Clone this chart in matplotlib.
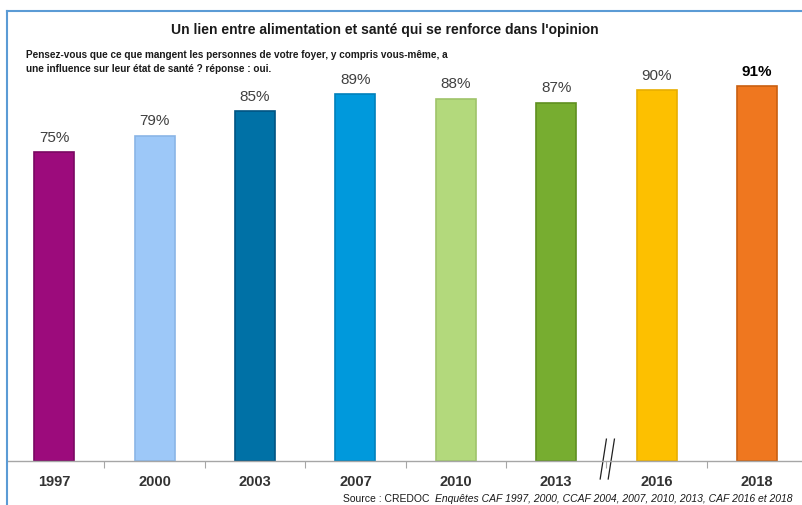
import matplotlib
matplotlib.use('Agg')
import matplotlib.pyplot as plt
from matplotlib.lines import Line2D

# data
years = ['1997', '2000', '2003', '2007', '2010', '2013', '2016', '2018']
values = [75, 79, 85, 89, 88, 87, 90, 91]
colors = ['#9c0b7c', '#9dc8f8', '#0071a6', '#0099dc', '#b3d97c', '#77ad30', '#fdc000', '#ef771f']
edges = ['#7a0862', '#8ab5e6', '#005483', '#0080bb', '#9fc46a', '#5f9020', '#e8ae00', '#c95f10']

plt.rcParams['font.family'] = ['Liberation Sans', 'DejaVu Sans']

W, H = 803, 506
fig = plt.figure(figsize=(W / 100, H / 100), dpi=100)

# axes: baseline at y=461.5, 0..109.3 up to y=12 ; categories spaced 100.4 px, first at x=54
ax = fig.add_axes([7 / W, (H - 461.5) / H, (W - 7) / W, 449.5 / H])
x = list(range(len(years)))
ax.bar(x, values, width=0.4, color=colors, edgecolor=edges, linewidth=1.2, zorder=2)
ax.set_xlim(-0.5 + 3 / 100.4, 7 + 46 / 100.4)
ax.set_ylim(0, 109.3)

for i, v in enumerate(values):
    last = i == len(values) - 1
    ax.text(i, v + 2.0, f'{v}%', ha='center', va='bottom', fontsize=11,
            color='black' if last else '#404040',
            fontweight='bold' if last else 'normal')

for s in ['top', 'right', 'left']:
    ax.spines[s].set_visible(False)
ax.spines['bottom'].set_color('#a6a6a6')
ax.spines['bottom'].set_linewidth(1.0)
ax.set_yticks([])
ax.set_xticks([i + 0.5 for i in range(len(years) - 1)])
ax.set_xticklabels([])
ax.tick_params(axis='x', length=5, color='#a6a6a6', direction='out')
for i, y in enumerate(years):
    ax.text(i, -5.0, y, ha='center', va='center', fontsize=10.5, color='#333333',
            fontweight='bold')

# break marks on the axis between 2013 and 2016
for dx in [0, 0.08]:
    ax.add_line(Line2D([5.438 + dx, 5.50 + dx], [-4.5, 5.2], color='#202020', lw=0.9,
                       clip_on=False))

# frame lines (light blue)
fig.add_artist(Line2D([7 / W, 7 / W], [0, 1 - 12 / H], color='#5b9bd5', lw=1.5))
fig.add_artist(Line2D([7 / W, 1], [1 - 12 / H, 1 - 12 / H], color='#5b9bd5', lw=1.5))

fig.text(385 / W, 1 - 30 / H, "Un lien entre alimentation et santé qui se renforce dans l'opinion",
         ha='center', va='center', fontsize=10, fontweight='bold', color='#1a1a1a')
fig.text(26 / W, 1 - 55 / H,
         "Pensez-vous que ce que mangent les personnes de votre foyer, y compris vous-même, a",
         ha='left', va='center', fontsize=7.2, fontweight='bold', color='#1a1a1a')
fig.text(26 / W, 1 - 69 / H, "une influence sur leur état de santé ? réponse : oui.",
         ha='left', va='center', fontsize=7.2, fontweight='bold', color='#1a1a1a')

t1 = fig.text(343 / W, 1 - 499 / H, "Source : CREDOC  ", ha='left', va='center',
              fontsize=7.5, color='#1a1a1a')
fig.canvas.draw()
bb = t1.get_window_extent()
fig.text(bb.x1 / W, 1 - 499 / H,
         "Enquêtes CAF 1997, 2000, CCAF 2004, 2007, 2010, 2013, CAF 2016 et 2018",
         ha='left', va='center', fontsize=7.5, style='italic', color='#1a1a1a')

fig.savefig('out.png', dpi=100)
